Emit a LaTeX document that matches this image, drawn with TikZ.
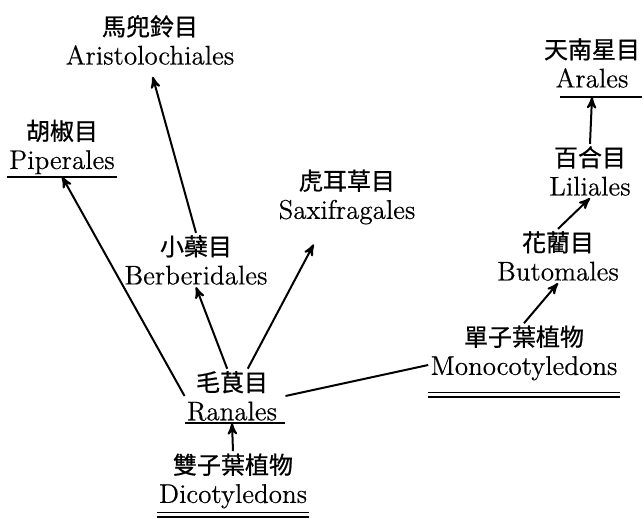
\documentclass[tikz,border=0pt]{standalone}
\usepackage{fontspec}
\setmainfont{Latin Modern Roman}[FakeBold=0.4]
\newfontfamily\cjk{Noto Sans CJK TC}[FakeBold=0.8]
\usetikzlibrary{arrows}

\begin{document}
\begin{tikzpicture}[x=0.5pt,y=-0.5pt,
	order/.style={align=center, inner sep=1pt, font=\fontsize{13.5}{14.5}\selectfont},
	rule/.style={line width=1pt},
	rules/.style={double, double distance=1.3pt, line width=0.8pt}]
	\useasboundingbox (0,0) rectangle (644,519);
	\node[order] (ari) at (150,40) {{\cjk\fontsize{12}{12}\selectfont 馬兜鈴目}\\Aristolochiales};
	\node[order] (pip) at (62,147) {{\cjk\fontsize{12}{12}\selectfont 胡椒目}\\Piperales};
	\node[order] (sax) at (347,197) {{\cjk\fontsize{12}{12}\selectfont 虎耳草目}\\Saxifragales};
	\node[order] (ber) at (196,260) {{\cjk\fontsize{12}{12}\selectfont 小蘗目}\\Berberidales};
	\node[order] (ran) at (232,396) {{\cjk\fontsize{12}{12}\selectfont 毛茛目}\\Ranales};
	\node[order] (dic) at (233,481) {{\cjk\fontsize{12}{12}\selectfont 雙子葉植物}\\Dicotyledons};
	\node[order] (mon) at (524,353) {{\cjk\fontsize{12}{12}\selectfont 單子葉植物}\\Monocotyledons};
	\node[order] (but) at (558,256) {{\cjk\fontsize{12}{12}\selectfont 花藺目}\\Butomales};
	\node[order] (lil) at (590,171) {{\cjk\fontsize{12}{12}\selectfont 百合目}\\Liliales};
	\node[order] (ara) at (592,63) {{\cjk\fontsize{12}{12}\selectfont 天南星目}\\Arales};
	% underlines
	\draw[rule] (pip.south west) -- (pip.south east);
	\draw[rule] (ran.south west) -- ([xshift=3pt]ran.south east);
	\draw[rule] ([xshift=-16pt,yshift=-3.5pt]ara.south) -- ([xshift=25pt,yshift=-3.5pt]ara.south);
	\draw[rules] ([yshift=-2pt]dic.south west) -- ([yshift=-2pt]dic.south east);
	\draw[rules] ([yshift=-6pt]mon.south west) -- ([yshift=-6pt]mon.south east);
	\path[->,>=stealth',line width=1pt]
	(ran.west) edge (pip.south)
	(ber.north) edge[shorten >=5pt] (ari.south)
	(ran.100) edge (ber.south)
	(ran.60) edge[shorten >=10pt] ([xshift=-12pt]sax.south)
	(dic.north) edge (ran.south)
	(mon.north) edge (but.south)
	(but.north) edge (lil.south)
	(lil.north) edge ([yshift=-3.5pt]ara.south);
	\draw[line width=1pt] ([xshift=3pt]ran.east) -- ([yshift=-6pt]mon.west);
\end{tikzpicture}
\end{document}
